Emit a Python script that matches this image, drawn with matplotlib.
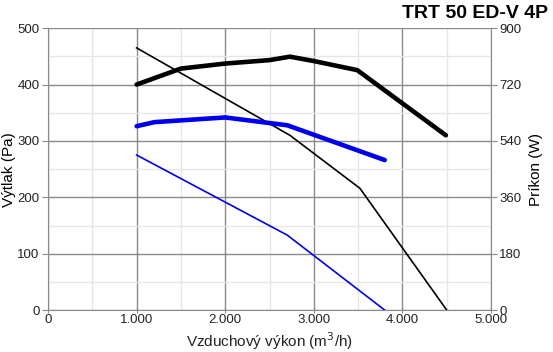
import matplotlib
matplotlib.use('Agg')
import matplotlib.pyplot as plt
from matplotlib.ticker import MultipleLocator, FuncFormatter

plt.rcParams['font.family'] = ['Liberation Sans', 'DejaVu Sans']

# Pressure curves (Pa) vs air flow (m3/h)
flow_black_p = [1000, 2730, 3520, 4500]
press_black = [465, 310, 216, 0]
flow_blue_p = [1000, 2700, 3800]
press_blue = [275, 133, 0]

# Power curves (W) vs air flow (m3/h)
flow_black_w = [1000, 1500, 2000, 2500, 2730, 3000, 3490, 4490]
power_black = [720, 771, 787, 798, 809, 795, 766, 558]
flow_blue_w = [1000, 1200, 2000, 2700, 3800]
power_blue = [587, 600, 615, 590, 479]

title = 'TRT 50 ED-V 4P'
text_col = '#222222'

fig = plt.figure(figsize=(5.53, 3.52), dpi=100)
ax = fig.add_axes([0.0868, 0.119, 0.8012, 0.801])
ax2 = ax.twinx()

ax.set_xlim(0, 5000)
ax.set_ylim(0, 500)
ax2.set_ylim(0, 900)

ax.xaxis.set_major_locator(MultipleLocator(1000))
ax.xaxis.set_minor_locator(MultipleLocator(500))
ax.yaxis.set_major_locator(MultipleLocator(100))
ax.yaxis.set_minor_locator(MultipleLocator(50))
ax2.yaxis.set_major_locator(MultipleLocator(180))
ax.xaxis.set_major_formatter(FuncFormatter(lambda v, p: f'{int(v):,}'.replace(',', '.')))

ax.grid(which='major', color='#8a8a8a', lw=1.0)
ax.grid(which='minor', color='#e6e6e6', lw=1.0)
ax.set_axisbelow(True)

for a in (ax, ax2):
    for s in a.spines.values():
        s.set_visible(False)
ax.spines['left'].set_visible(True)
ax.spines['left'].set_color('#8a8a8a')
ax.spines['bottom'].set_visible(True)
ax.spines['bottom'].set_color('#8a8a8a')
ax2.spines['right'].set_visible(True)
ax2.spines['right'].set_color('#8a8a8a')

ax.tick_params(which='both', length=0, labelsize=9.5, labelcolor=text_col)
ax.tick_params(axis='y', which='major', length=4, color='#8a8a8a', pad=2)
ax.tick_params(axis='x', which='major', length=4, color='#8a8a8a', pad=1, direction='inout')
ax2.tick_params(which='major', length=4, color='#8a8a8a', labelsize=9.5, labelcolor=text_col, pad=2)

# thin lines = pressure, thick lines = power
ax.plot(flow_black_p, press_black, color='black', lw=1.2, zorder=3)
ax.plot(flow_blue_p, press_blue, color='#0000ee', lw=1.2, zorder=3)
ax2.plot(flow_black_w, power_black, color='black', lw=3.3, solid_joinstyle='round',
         solid_capstyle='round', zorder=3)
ax2.plot(flow_blue_w, power_blue, color='#0000ee', lw=3.3, solid_joinstyle='round',
         solid_capstyle='round', zorder=3)

ax.set_xlabel('Vzduchový výkon (m$^3$/h)', fontsize=11, color=text_col, labelpad=3)
ax.set_ylabel('Výtlak (Pa)', fontsize=11, color='black', labelpad=1)
ax2.set_ylabel('Príkon (W)', fontsize=11, color='black', labelpad=5)

fig.text(0.991, 0.985, title, ha='right', va='top', fontsize=14, fontweight='bold', color='black')

fig.savefig('out.png', dpi=100)
